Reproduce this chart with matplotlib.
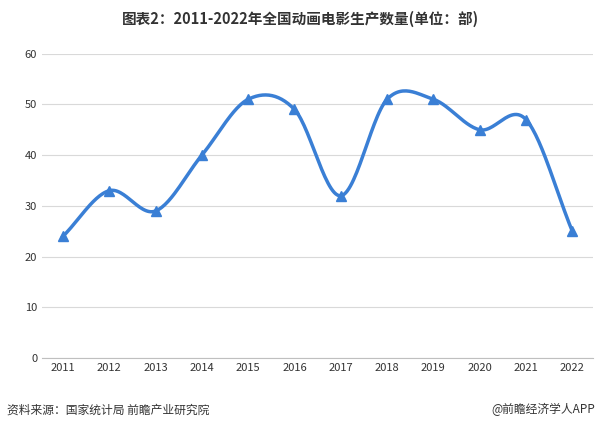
import numpy as np
import matplotlib
matplotlib.use("Agg")
import matplotlib.pyplot as plt

plt.rcParams['font.family'] = ['Noto Sans CJK SC', 'DejaVu Sans']

years = ['2011','2012','2013','2014','2015','2016','2017','2018','2019','2020','2021','2022']
counts = [24, 33, 29, 40, 51, 49, 32, 51, 51, 45, 47, 25]

def catmull(x, y, n=30):
    x = np.asarray(x, float); y = np.asarray(y, float)
    px = np.concatenate([[2*x[0]-x[1]], x, [2*x[-1]-x[-2]]])
    py = np.concatenate([[2*y[0]-y[1]], y, [2*y[-1]-y[-2]]])
    xs, ys = [], []
    t = np.linspace(0, 1, n)
    for i in range(1, len(px)-2):
        for P, out in ((px, xs), (py, ys)):
            p0, p1, p2, p3 = P[i-1], P[i], P[i+1], P[i+2]
            out.extend(0.5*((2*p1) + (-p0+p2)*t + (2*p0-5*p1+4*p2-p3)*t**2 + (-p0+3*p1-3*p2+p3)*t**3))
    return np.array(xs), np.array(ys)

fig = plt.figure(figsize=(6.01, 4.29), dpi=100)
ax = fig.add_axes([0.070, 0.165, 0.917, 0.71])
x = np.arange(len(years))
sx, sy = catmull(x, counts)
color = '#3A7FD5'
ax.plot(sx, sy, color=color, lw=2.5)
ax.plot(x, counts, '^', color=color, ms=7)
ax.set_xlim(-0.45, len(years)-0.55)
ax.set_ylim(0, 60)
ax.set_yticks(range(0, 61, 10))
ax.set_xticks(x)
ax.set_xticklabels(years)
ax.grid(axis='y', color='#d9d9d9', lw=0.8)
ax.set_axisbelow(True)
for s in ['top', 'right', 'left']:
    ax.spines[s].set_visible(False)
ax.spines['bottom'].set_color('#bfbfbf')
ax.tick_params(length=0, labelsize=8, colors='#333333')
fig.text(0.5, 0.955, '图表2：2011-2022年全国动画电影生产数量(单位：部)', ha='center', va='center',
         fontsize=10.5, fontweight='bold', color='#333333')
fig.text(0.012, 0.045, '资料来源：国家统计局 前瞻产业研究院', ha='left', va='center', fontsize=8.5, color='#333333')
fig.text(0.99, 0.045, '@前瞻经济学人APP', ha='right', va='center', fontsize=8.5, color='#333333')
fig.savefig('out.png', dpi=100)
